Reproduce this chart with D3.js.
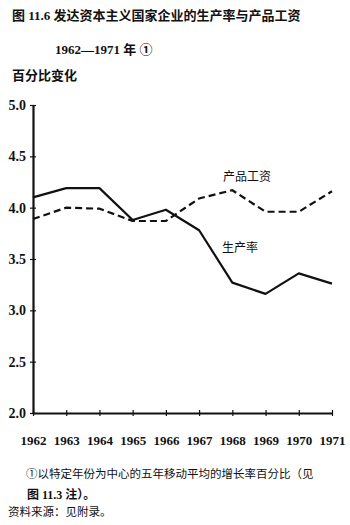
<!DOCTYPE html>
<html>
<head>
<meta charset="utf-8">
<script src="https://cdn.jsdelivr.net/npm/d3@7"></script>
<style>
  body { margin: 0; background: #fff; }
</style>
</head>
<body>
<svg id="chart" width="350" height="525"></svg>
<script>
// data
const years = [1962, 1963, 1964, 1965, 1966, 1967, 1968, 1969, 1970, 1971];
const productivity = [4.10, 4.19, 4.19, 3.88, 3.98, 3.78, 3.27, 3.16, 3.36, 3.26];
const productWage = [3.89, 4.00, 3.99, 3.87, 3.87, 4.09, 4.17, 3.96, 3.96, 4.16];
const yTicks = [2.0, 2.5, 3.0, 3.5, 4.0, 4.5, 5.0];

const FONT = '"Liberation Serif", "Noto Sans CJK SC", serif';

let svg = d3.select("#chart");

let x = d3.scaleLinear().domain([1962, 1971]).range([33, 332]),
    y = d3.scaleLinear().domain([2, 5]).range([413, 105]);

const label = (tx, ty, size, weight, str) =>
    svg.append("text").attr("x", tx).attr("y", ty)
        .style("font-family", FONT).style("font-size", size + "px")
        .style("font-weight", weight).attr("fill", "#111").text(str);

// titles
label(12, 20, 13, "bold", "图 11.6 发达资本主义国家企业的生产率与产品工资");
label(55, 54, 13, "bold", "1962—1971 年 ①");
label(12, 80, 13, "bold", "百分比变化");

// y axis
let yAxis = svg.append("g").attr("transform", "translate(" + x(1962) + ",0)")
    .call(d3.axisLeft(y).tickValues(yTicks).tickSizeInner(3).tickSizeOuter(0)
        .tickFormat(d3.format(".1f")));
yAxis.select(".domain").attr("stroke", "#111").attr("stroke-width", 2.2);
yAxis.selectAll(".tick line").attr("x2", 3).attr("x1", -3).attr("stroke", "#111").attr("stroke-width", 1.2);
yAxis.selectAll(".tick text").attr("x", -7).attr("fill", "#111")
    .style("font-family", FONT).style("font-size", "14px").style("font-weight", "bold");

// x axis
let xAxis = svg.append("g").attr("transform", "translate(0," + y(2) + ")")
    .call(d3.axisBottom(x).tickValues(years).tickSizeInner(3).tickSizeOuter(0)
        .tickFormat(d3.format("d")));
xAxis.select(".domain").attr("stroke", "#111").attr("stroke-width", 2.2);
xAxis.selectAll(".tick line").attr("y1", -3).attr("y2", 3).attr("stroke", "#111").attr("stroke-width", 1.2);
xAxis.selectAll(".tick text").attr("y", 23).attr("fill", "#111")
    .style("font-family", FONT).style("font-size", "13px").style("font-weight", "bold");

let line = d3.line()
    .x((d, i) => x(years[i]))
    .y(d => y(d));

svg.append("path")
    .datum(productivity)
    .attr("d", line)
    .attr("fill", "none")
    .attr("stroke", "#111")
    .attr("stroke-width", 2.2)
    .attr("stroke-linejoin", "round");

svg.append("path")
    .datum(productWage)
    .attr("d", line)
    .attr("fill", "none")
    .attr("stroke", "#111")
    .attr("stroke-width", 2.2)
    .attr("stroke-dasharray", "7,4");

// series labels
label(223, 181, 12, "normal", "产品工资");
label(222, 252, 12, "normal", "生产率");

// notes
label(26, 478, 11.5, "normal", "①以特定年份为中心的五年移动平均的增长率百分比（见");
label(27, 499, 12, "bold", "图 11.3 注）。");
label(8, 516, 11.5, "normal", "资料来源：见附录。");
</script>
</body>
</html>
